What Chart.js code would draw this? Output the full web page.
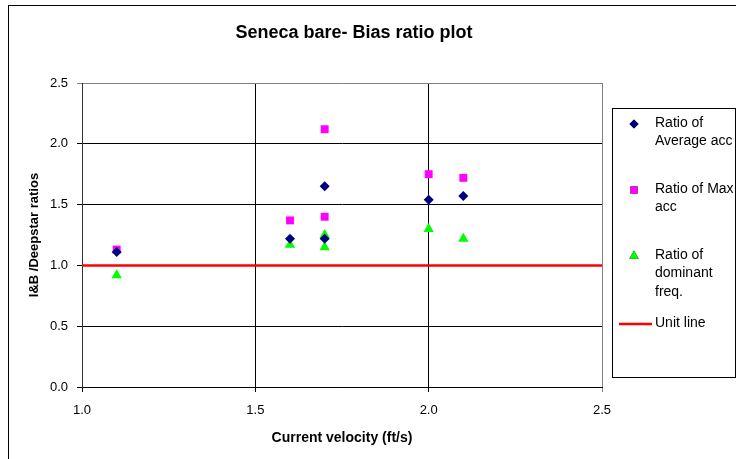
<!DOCTYPE html>
<html>
<head>
<meta charset="utf-8">
<script src="https://cdn.jsdelivr.net/npm/chart.js@4.4.0/dist/chart.umd.min.js"></script>
<style>
html, body { margin: 0; padding: 0; background: #fff; }
#wrap { position: relative; width: 736px; height: 459px; }
</style>
</head>
<body>
<div id="wrap"><canvas id="biasChart" width="736" height="459"></canvas></div>
<script>
// current velocity (ft/s) for each run
var velocity = [1.1, 1.6, 1.7, 1.7, 2.0, 2.1];
// I&B / Deepstar ratios
var ratioAvgAcc = [1.11, 1.22, 1.65, 1.22, 1.54, 1.57];
var ratioMaxAcc = [1.13, 1.37, 2.12, 1.40, 1.75, 1.72];
var ratioDomFreq = [0.92, 1.17, 1.25, 1.15, 1.30, 1.22];
// unit line
var unitX = [1.0, 2.5];
var unitY = [1.0, 1.0];
var xTicks = [1.0, 1.5, 2.0, 2.5];
var yTicks = [0.0, 0.5, 1.0, 1.5, 2.0, 2.5];

var legendText = [
    ['Ratio of', 'Average acc'],
    ['Ratio of Max', 'acc'],
    ['Ratio of', 'dominant', 'freq.'],
    ['Unit line']
];

function toPoints(xs, ys) {
    return xs.map(function (x, i) { return { x: x, y: ys[i] }; });
}

Chart.defaults.font.family = 'Arial, "Liberation Sans", sans-serif';
Chart.defaults.color = '#000';

// border, title and the boxed legend on the right
var decor = {
    id: 'decor',
    beforeDraw: function (chart) {
        var ctx = chart.ctx;
        ctx.save();
        ctx.fillStyle = '#fff';
        ctx.fillRect(0, 0, chart.width, chart.height);
        ctx.strokeStyle = '#000';
        ctx.lineWidth = 1;
        ctx.strokeRect(8.5, 5.5, chart.width + 10, chart.height + 10);
        ctx.restore();
    },
    afterDraw: function (chart) {
        var ctx = chart.ctx;
        ctx.save();
        ctx.fillStyle = '#000';
        ctx.font = 'bold 18px Arial, "Liberation Sans", sans-serif';
        ctx.textAlign = 'center';
        ctx.textBaseline = 'middle';
        ctx.fillText('Seneca bare- Bias ratio plot', 354, 33);

        // legend
        ctx.strokeStyle = '#000';
        ctx.lineWidth = 1;
        ctx.strokeRect(612.5, 108.5, 123, 269);
        ctx.font = '14px Arial, "Liberation Sans", sans-serif';
        ctx.textAlign = 'left';
        var tops = [123, 189, 255, 323];
        chart.data.datasets.forEach(function (ds, i) {
            var y = tops[i];
            if (ds.showLine) {
                ctx.strokeStyle = ds.borderColor;
                ctx.lineWidth = ds.borderWidth;
                ctx.beginPath();
                ctx.moveTo(619, y + 1);
                ctx.lineTo(652, y + 1);
                ctx.stroke();
            } else {
                Chart.helpers.drawPoint(ctx, {
                    pointStyle: ds.pointStyle,
                    radius: ds.pointRadius - 0.5,
                    borderWidth: 0
                }, 634, y + 1);
                ctx.fillStyle = ds.backgroundColor;
                ctx.fill();
            }
            ctx.fillStyle = '#000';
            legendText[i].forEach(function (line, j) {
                ctx.fillText(line, 655, y + j * 18.5);
            });
        });
        ctx.restore();
    }
};

var biasChart = new Chart(document.getElementById('biasChart'), {
    type: 'scatter',
    data: {
        datasets: [{
            label: 'Ratio of Average acc',
            data: toPoints(velocity, ratioAvgAcc),
            pointStyle: 'rectRot',
            pointRadius: 5,
            backgroundColor: '#000080',
            borderColor: '#000080',
            borderWidth: 0
        }, {
            label: 'Ratio of Max acc',
            data: toPoints(velocity, ratioMaxAcc),
            pointStyle: 'rect',
            pointRadius: 5.6,
            backgroundColor: '#ff00ff',
            borderColor: '#ff00ff',
            borderWidth: 0
        }, {
            label: 'Ratio of dominant freq.',
            data: toPoints(velocity, ratioDomFreq),
            pointStyle: 'triangle',
            pointRadius: 6,
            backgroundColor: '#00ff00',
            borderColor: '#00ff00',
            borderWidth: 0
        }, {
            label: 'Unit line',
            data: toPoints(unitX, unitY),
            showLine: true,
            pointRadius: 0,
            borderColor: '#ff0000',
            backgroundColor: '#ff0000',
            borderWidth: 2.5
        }]
    },
    options: {
        responsive: false,
        animation: false,
        layout: {
            padding: { left: 0, top: 83, right: 134, bottom: 0 }
        },
        plugins: {
            legend: { display: false },
            tooltip: { enabled: false }
        },
        scales: {
            x: {
                type: 'linear',
                min: 1.0,
                max: 2.5,
                afterBuildTicks: function (scale) {
                    scale.ticks = xTicks.map(function (v) { return { value: v }; });
                },
                afterFit: function (scale) { scale.height = 72; },
                ticks: {
                    font: { size: 13 },
                    padding: 11,
                    maxRotation: 0,
                    callback: function (v) { return v.toFixed(1); }
                },
                grid: {
                    color: function (c) { return c.index === xTicks.length - 1 ? '#808080' : '#000'; },
                    tickLength: 5
                },
                border: { color: '#000', width: 1 },
                title: {
                    display: true,
                    text: 'Current velocity (ft/s)',
                    font: { size: 14, weight: 'bold' },
                    padding: { top: 0, bottom: 12 }
                }
            },
            y: {
                min: 0,
                max: 2.5,
                afterBuildTicks: function (scale) {
                    scale.ticks = yTicks.map(function (v) { return { value: v }; });
                },
                afterFit: function (scale) { scale.width = 82; },
                ticks: {
                    font: { size: 13 },
                    padding: 9,
                    callback: function (v) { return v.toFixed(1); }
                },
                grid: {
                    color: function (c) { return c.index === yTicks.length - 1 ? '#808080' : '#000'; },
                    tickLength: 5
                },
                border: { color: '#333', width: 1 },
                title: {
                    display: true,
                    text: 'I&B /Deepstar ratios',
                    font: { size: 13, weight: 'bold' },
                    padding: { top: 27, bottom: 0 }
                }
            }
        }
    },
    plugins: [decor]
});
</script>
</body>
</html>
